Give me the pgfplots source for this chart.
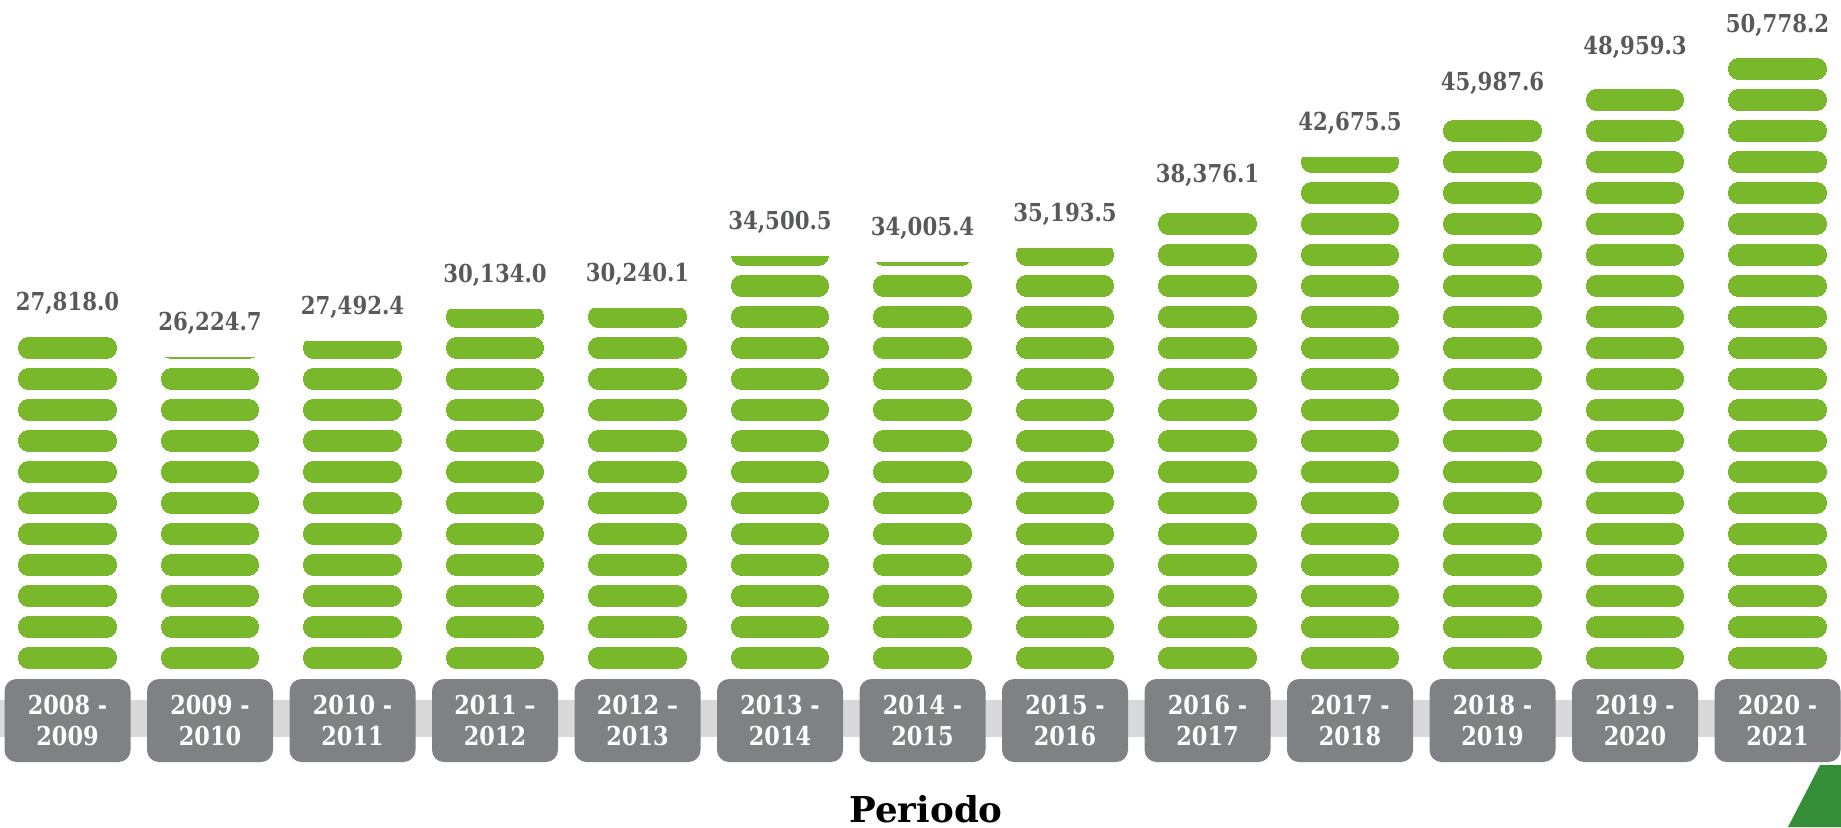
\documentclass[border=0pt]{standalone}
\usepackage{pgfplots}
\pgfplotsset{compat=1.18}
\usepackage{pgfplotstable}
\usepackage{fontspec}
\setmainfont{DejaVu Serif}
\newfontfamily\condserif[FakeStretch=0.86]{DejaVu Serif}

\definecolor{pillgreen}{HTML}{78B82A}
\definecolor{valgray}{HTML}{58595B}
\definecolor{boxgray}{HTML}{808185}
\definecolor{bandgray}{HTML}{D9D9D9}
\definecolor{cornergreen}{HTML}{348E37}

% periodo, valor
\pgfplotstableread{
x v
0 27818.0
1 26224.7
2 27492.4
3 30134.0
4 30240.1
5 34500.5
6 34005.4
7 35193.5
8 38376.1
9 42675.5
10 45987.6
11 48959.3
12 50778.2
}\datatable

% pill geometry: pitch 15.5pt, pill 11pt high, first pill 3pt above the base.
% the round ends are 11 thin dashed strips per side (0.5pt each)
\foreach \i in {0,...,10}{
  \pgfmathsetmacro\xx{(\i+0.5)*0.5}
  \pgfmathsetmacro\hh{sqrt(30.25-\xx*\xx)}
  \pgfmathsetmacro\LL{2*\hh}
  \pgfmathsetmacro\OO{15.5-2*\hh}
  \pgfmathsetmacro\PP{7+\hh}
  \pgfmathsetmacro\XX{19+\xx}
  \expandafter\xdef\csname capL\i\endcsname{\LL}
  \expandafter\xdef\csname capO\i\endcsname{\OO}
  \expandafter\xdef\csname capP\i\endcsname{\PP}
  \expandafter\xdef\csname capX\i\endcsname{\XX}
}
\tikzset{
  pillbody/.style={ycomb, draw=pillgreen, line width=38pt, line cap=butt,
    dash pattern=on 11pt off 4.5pt, dash phase=12.5pt, mark=none},
  pillcap/.style 2 args={ycomb, draw=pillgreen, line width=0.6pt, line cap=butt,
    dash pattern=on \csname capL#1\endcsname pt off \csname capO#1\endcsname pt,
    dash phase=\csname capP#1\endcsname pt,
    xshift=#2\csname capX#1\endcsname pt, mark=none},
}

\begin{document}
\begin{tikzpicture}
\path[use as bounding box] (0,0) rectangle (920.5pt,413.5pt);
\fill[bandgray] (0,45pt) rectangle (920.5pt,63.5pt);
\fill[cornergreen] (910pt,31pt) -- (925pt,31pt) -- (925pt,0pt) -- (894pt,0pt) -- cycle;
\begin{axis}[
    at={(0pt,76pt)}, anchor=south west,
    scale only axis,
    width=920.5pt, height=337.5pt,
    xmin=-0.4737, xmax=12.4456,
    ymin=0, ymax=55593,
    axis line style={draw=none},
    tick style={draw=none},
    ytick=\empty,
    xtick={0,...,12},
    xticklabels={{2008 -\\2009},{2009 -\\2010},{2010 -\\2011},{2011 –\\2012},
                 {2012 –\\2013},{2013 -\\2014},{2014 -\\2015},{2015 -\\2016},
                 {2016 -\\2017},{2017 -\\2018},{2018 -\\2019},{2019 -\\2020},
                 {2020 -\\2021}},
    xticklabel style={font=\condserif\bfseries\fontsize{13}{15.8}\selectfont,
        text=white, fill=boxgray, rounded corners=6pt, align=center,
        minimum width=63pt, minimum height=41.5pt, inner sep=0pt,
        anchor=center, yshift=-22.75pt},
    xlabel={Periodo},
    xlabel style={at={(axis description cs:0.503,0)}, anchor=base,
        yshift=-73.5pt, font=\bfseries\fontsize{17.8}{20}\selectfont},
    /pgf/number format/.cd, fixed, fixed zerofill, precision=1,
        1000 sep={,}, assume math mode=true,
    /pgfplots/.cd,
    every node near coord/.append style={font=\condserif\bfseries\fontsize{12.35}{14}\selectfont,
        text=valgray, inner sep=0pt, text depth=0pt, anchor=south, yshift=-5.8pt,
        solid},
]
\pgfplotsinvokeforeach{0,...,10}{
  \addplot[pillcap={#1}{-}] table[x=x, y=v] {\datatable};
  \addplot[pillcap={#1}{}] table[x=x, y=v] {\datatable};
}
\addplot[pillbody, nodes near coords] table[x=x, y=v] {\datatable};
\end{axis}
\end{tikzpicture}
\end{document}
